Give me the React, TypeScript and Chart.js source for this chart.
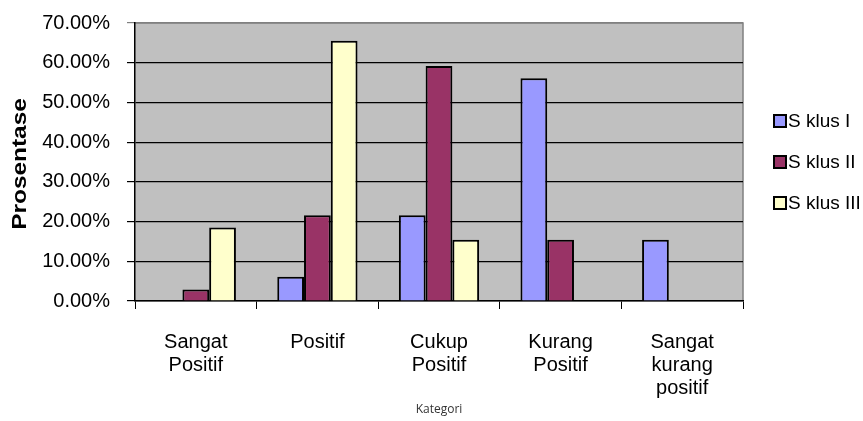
import React, { useEffect, useRef } from "react";
import { Chart, registerables } from "chart.js";

Chart.register(...registerables);

const categories: string[][] = [
  ["Sangat", "Positif"],
  ["Positif"],
  ["Cukup", "Positif"],
  ["Kurang", "Positif"],
  ["Sangat", "kurang", "positif"],
];
const seriesNames = ["S klus I", "S klus II", "S klus III"];
const siklus1 = [0, 6.1, 21.6, 56.1, 15.4];
const siklus2 = [2.9, 21.6, 59.2, 15.4, 0];
const siklus3 = [18.5, 65.5, 15.4, 0, 0];
const seriesColors = ["#9999FF", "#993366", "#FFFFCC"];
const yTicks = [0, 10, 20, 30, 40, 50, 60, 70];
const yTitle = "Prosentase";
const xTitle = "Kategori";

const FONT = "'Liberation Sans', Arial, sans-serif";

const plotBg = {
  id: "plotBg",
  beforeDraw(chart: any) {
    const { ctx, chartArea } = chart;
    if (!chartArea) return;
    ctx.save();
    ctx.fillStyle = "#C0C0C0";
    ctx.fillRect(chartArea.left, chartArea.top, chartArea.right - chartArea.left, chartArea.bottom - chartArea.top);
    ctx.strokeStyle = "#808080";
    ctx.lineWidth = 1.5;
    ctx.beginPath();
    ctx.moveTo(chartArea.left, chartArea.top);
    ctx.lineTo(chartArea.right, chartArea.top);
    ctx.lineTo(chartArea.right, chartArea.bottom);
    ctx.stroke();
    ctx.restore();
  },
};

const yTitlePlugin = {
  id: "yTitlePlugin",
  afterDraw(chart: any) {
    const { ctx, chartArea } = chart;
    ctx.save();
    ctx.translate(20, (chartArea.top + chartArea.bottom) / 2 + 2);
    ctx.rotate(-Math.PI / 2);
    ctx.scale(1.22, 1);
    ctx.font = `bold 20px ${FONT}`;
    ctx.fillStyle = "#000";
    ctx.textAlign = "center";
    ctx.textBaseline = "middle";
    ctx.fillText(yTitle, 0, 0);
    ctx.restore();
  },
};

const customLegend = {
  id: "customLegend",
  afterDraw(chart: any) {
    const { ctx } = chart;
    const datasets = chart.data.datasets;
    ctx.save();
    ctx.font = `19px ${FONT}`;
    ctx.textBaseline = "middle";
    ctx.textAlign = "left";
    datasets.forEach((ds: any, i: number) => {
      const cy = 121 + i * 41;
      const bx = 774;
      ctx.fillStyle = ds.backgroundColor;
      ctx.fillRect(bx, cy - 6, 12, 12);
      ctx.strokeStyle = "#000";
      ctx.lineWidth = 2;
      ctx.strokeRect(bx, cy - 6, 12, 12);
      ctx.fillStyle = "#000";
      ctx.fillText(ds.label, 788, cy + 1);
    });
    ctx.restore();
  },
};

export default function App() {
  const ref = useRef<HTMLCanvasElement | null>(null);
  useEffect(() => {
    if (!ref.current) return;
    const data = [siklus1, siklus2, siklus3];
    const chart = new Chart(ref.current, {
      type: "bar",
      data: {
        labels: categories,
        datasets: seriesNames.map((name, i) => ({
          label: name,
          data: data[i],
          backgroundColor: seriesColors[i],
          borderColor: "#000",
          borderWidth: 2,
          barPercentage: 1,
          categoryPercentage: 0.66,
        })),
      },
      options: {
        animation: false,
        responsive: true,
        maintainAspectRatio: false,
        layout: { padding: { top: 23, right: 120, left: 0, bottom: 0 } },
        plugins: {
          legend: { display: false },
          tooltip: { enabled: false },
        },
        scales: {
          x: {
            offset: true,
            grid: {
              offset: true,
              drawOnChartArea: false,
              drawTicks: true,
              tickLength: 8,
              color: "#000",
              lineWidth: 1,
            },
            border: { color: "#000", width: 1.5 },
            ticks: {
              color: "#000",
              font: { family: FONT, size: 20, lineHeight: 1.15 },
              padding: 22,
              maxRotation: 0,
              autoSkip: false,
            },
            title: {
              display: true,
              text: xTitle,
              color: "#333",
              font: { family: "'Open Sans', sans-serif", size: 12 },
              padding: { top: 0, bottom: 4 },
            },
            afterFit(scale: any) {
              scale.height = 120;
              scale.paddingLeft = 0;
              scale.paddingRight = 0;
            },
          },
          y: {
            min: 0,
            max: 70,
            afterBuildTicks(scale: any) {
              scale.ticks = yTicks.map((v) => ({ value: v }));
            },
            grid: {
              color: (c: any) => (c.tick && c.tick.value === 70 ? "#808080" : "#000"),
              lineWidth: 1.2,
              tickLength: 8,
              drawTicks: true,
            },
            border: { color: "#000", width: 1.5 },
            ticks: {
              color: "#000",
              font: { family: FONT, size: 20 },
              padding: 17,
              callback: (v: any) => Number(v).toFixed(2) + "%",
            },
            afterFit(scale: any) {
              scale.width = 135;
              scale.paddingTop = 0;
              scale.paddingBottom = 0;
            },
          },
        },
      },
      plugins: [plotBg, yTitlePlugin, customLegend],
    });
    return () => chart.destroy();
  }, []);
  return (
    <div style={{ position: "absolute", left: 0, top: 0, width: 863, height: 421, background: "#fff" }}>
      <canvas ref={ref} />
    </div>
  );
}
